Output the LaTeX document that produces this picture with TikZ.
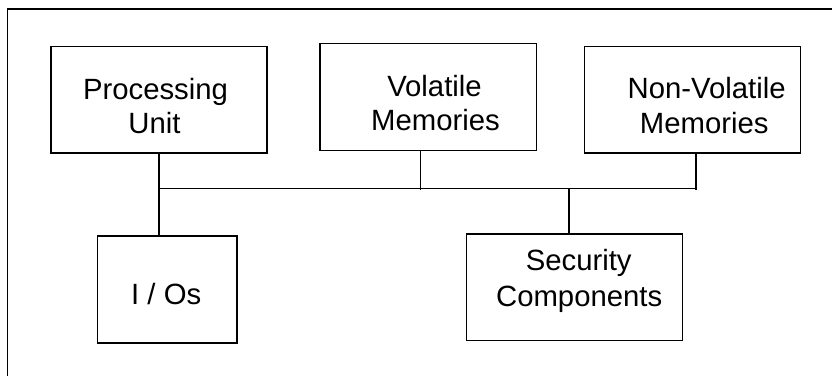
\documentclass[tikz,border=0pt]{standalone}
\usepackage{fontspec}
\setmainfont{Liberation Sans}
\begin{document}
\begin{tikzpicture}[x=1pt,y=-1pt,
  box/.style={draw, line width=1.6pt, inner sep=0pt, anchor=north west},
  lbl/.style={anchor=base, inner sep=0pt, font=\fontsize{29.3}{34.3}\selectfont},
  wire/.style={line width=1.6pt}]
\useasboundingbox (0,0) rectangle (832,376);
% outer frame (cut off at right and bottom)
\coordinate (fbl) at (7.5,376);
\coordinate (ftl) at (7.5,9);
\coordinate (ftr) at (832,9);
\draw[line width=1.7pt] (fbl) -- (ftl) -- (ftr);
% boxes
\node[box, minimum width=216pt, minimum height=106.6pt] (pu) at (50,45.7) {};
\node[box, minimum width=216.4pt, minimum height=107pt] (vm) at (319.3,42.7) {};
\node[box, minimum width=216pt, minimum height=106.6pt] (nvm) at (583.7,45.7) {};
\node[box, minimum width=139.6pt, minimum height=106.7pt] (io) at (96.7,235.3) {};
\node[box, minimum width=216pt, minimum height=106.7pt] (sec) at (465.7,233) {};
% labels
\node[lbl] (puA) at (155.5,99) {Processing};
\node[lbl] (puB) at (154.5,133.3) {Unit};
\node[lbl] (vmA) at (434.5,96.7) {Volatile};
\node[lbl] (vmB) at (435.5,130.5) {Memories};
\node[lbl] (nvmA) at (706.7,98.3) {Non-Volatile};
\node[lbl] (nvmB) at (704.2,133.3) {Memories};
\node[lbl] (ioA) at (166.2,304) {I / Os};
\node[lbl] (secA) at (578.7,270.7) {Security};
\node[lbl] (secB) at (579.2,306) {Components};
% bus
\coordinate (busL) at (158,188.3);
\coordinate (busR) at (696.7,188.3);
\coordinate (vmdrop) at (420.3,190);
\coordinate (nvmdrop) at (696.2,190);
\coordinate (secdrop) at (569,188.3);
\draw[wire] (busL) -- (busR);
\draw[wire] (pu.south) -- (pu.south |- io.north);
\draw[wire] (vmdrop |- vm.south) -- (vmdrop);
\draw[wire] (nvmdrop |- nvm.south) -- (nvmdrop);
\draw[wire] (secdrop) -- (secdrop |- sec.north);
\end{tikzpicture}
\end{document}
